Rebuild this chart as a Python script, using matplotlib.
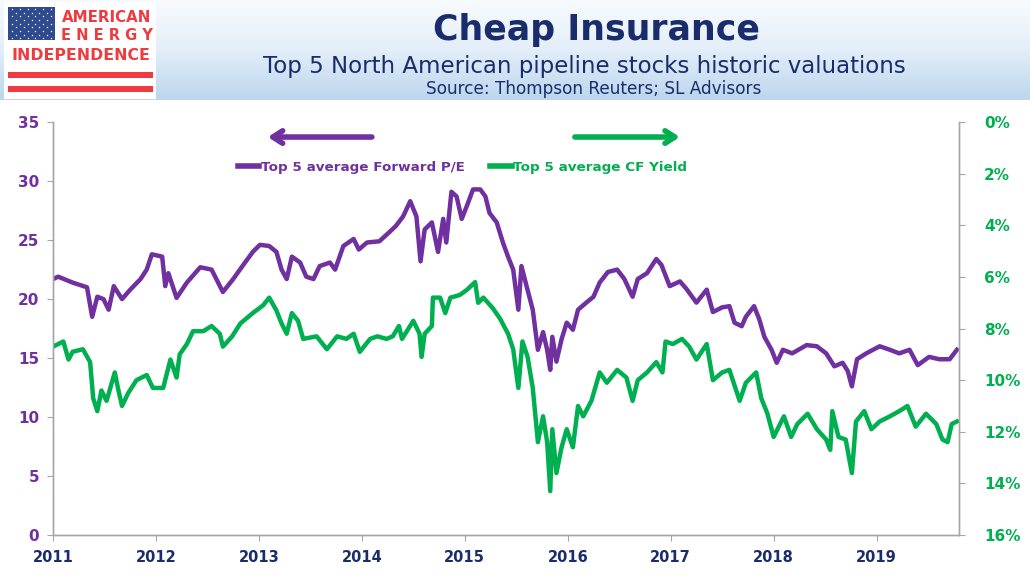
import numpy as np
import matplotlib
matplotlib.use("Agg")
import matplotlib.pyplot as plt
from matplotlib.colors import LinearSegmentedColormap
from matplotlib.patches import Rectangle
from matplotlib.lines import Line2D

# Top 5 average forward P/E (left axis)
pe_t = [2011.00, 2011.05, 2011.19, 2011.33, 2011.38, 2011.43, 2011.49, 2011.54, 2011.59, 2011.67,
        2011.75, 2011.85, 2011.91, 2011.96, 2012.06, 2012.09, 2012.12, 2012.20, 2012.30, 2012.43,
        2012.54, 2012.65, 2012.75, 2012.84, 2012.94, 2013.01, 2013.10, 2013.17, 2013.22, 2013.27,
        2013.32, 2013.40, 2013.46, 2013.53, 2013.59, 2013.69, 2013.74, 2013.82, 2013.92, 2013.97,
        2014.05, 2014.17, 2014.27, 2014.33, 2014.40, 2014.47, 2014.53, 2014.57, 2014.61, 2014.68,
        2014.74, 2014.79, 2014.82, 2014.87, 2014.92, 2014.97, 2015.02, 2015.08, 2015.15, 2015.20,
        2015.24, 2015.31, 2015.37, 2015.42, 2015.47, 2015.52, 2015.55, 2015.60, 2015.66, 2015.71,
        2015.76, 2015.80, 2015.83, 2015.85, 2015.89, 2015.94, 2015.99, 2016.05, 2016.10, 2016.18,
        2016.25, 2016.31, 2016.39, 2016.48, 2016.55, 2016.63, 2016.68, 2016.77, 2016.86, 2016.91,
        2016.99, 2017.09, 2017.15, 2017.25, 2017.35, 2017.41, 2017.50, 2017.57, 2017.62, 2017.69,
        2017.73, 2017.81, 2017.86, 2017.91, 2017.98, 2018.03, 2018.09, 2018.18, 2018.32, 2018.42,
        2018.51, 2018.59, 2018.67, 2018.72, 2018.76, 2018.81, 2018.90, 2019.03, 2019.13, 2019.22,
        2019.32, 2019.40, 2019.51, 2019.61, 2019.71, 2019.78]
pe_v = [21.7, 21.9, 21.4, 21.0, 18.5, 20.2, 20.0, 19.1, 21.1, 20.0,
        20.8, 21.7, 22.5, 23.8, 23.6, 21.1, 22.2, 20.1, 21.4, 22.7,
        22.5, 20.6, 21.7, 22.8, 24.0, 24.6, 24.5, 24.0, 22.5, 21.7,
        23.6, 23.1, 21.9, 21.7, 22.8, 23.1, 22.5, 24.5, 25.1, 24.2,
        24.8, 24.9, 25.7, 26.2, 27.0, 28.3, 27.0, 23.2, 25.9, 26.5,
        24.0, 26.8, 24.8, 29.1, 28.7, 26.8, 27.9, 29.3, 29.3, 28.7,
        27.3, 26.5, 24.8, 23.6, 22.5, 19.1, 22.8, 21.1, 19.1, 15.7,
        17.2, 15.7, 14.0, 16.8, 14.7, 16.6, 18.0, 17.4, 19.1, 19.7,
        20.2, 21.4, 22.3, 22.5, 21.7, 20.2, 21.7, 22.2, 23.4, 22.9,
        21.1, 21.5, 20.9, 19.7, 20.8, 18.9, 19.3, 19.4, 18.0, 17.7,
        18.5, 19.4, 18.3, 16.8, 15.7, 14.6, 15.7, 15.4, 16.1, 16.0,
        15.4, 14.3, 14.6, 13.9, 12.6, 14.9, 15.4, 16.0, 15.7, 15.4,
        15.7, 14.4, 15.1, 14.9, 14.9, 15.7]

# Top 5 average CF yield in % (right axis, inverted)
cf_t = [2011.00, 2011.10, 2011.15, 2011.19, 2011.29, 2011.36, 2011.39, 2011.43, 2011.47, 2011.52,
        2011.60, 2011.63, 2011.67, 2011.73, 2011.81, 2011.91, 2011.97, 2012.07, 2012.14, 2012.20,
        2012.23, 2012.30, 2012.36, 2012.46, 2012.54, 2012.62, 2012.65, 2012.74, 2012.82, 2012.94,
        2013.04, 2013.10, 2013.17, 2013.22, 2013.27, 2013.32, 2013.38, 2013.43, 2013.56, 2013.66,
        2013.76, 2013.85, 2013.92, 2013.98, 2014.08, 2014.15, 2014.24, 2014.30, 2014.36, 2014.39,
        2014.50, 2014.56, 2014.58, 2014.61, 2014.68, 2014.69, 2014.76, 2014.81, 2014.86, 2014.95,
        2015.02, 2015.10, 2015.13, 2015.18, 2015.27, 2015.34, 2015.42, 2015.47, 2015.52, 2015.56,
        2015.61, 2015.66, 2015.71, 2015.76, 2015.80, 2015.83, 2015.85, 2015.89, 2015.94, 2015.99,
        2016.05, 2016.10, 2016.15, 2016.23, 2016.31, 2016.38, 2016.48, 2016.57, 2016.63, 2016.68,
        2016.77, 2016.86, 2016.92, 2016.95, 2017.02, 2017.11, 2017.18, 2017.25, 2017.35, 2017.41,
        2017.50, 2017.57, 2017.67, 2017.73, 2017.83, 2017.88, 2017.94, 2018.00, 2018.05, 2018.10,
        2018.17, 2018.23, 2018.33, 2018.42, 2018.51, 2018.55, 2018.57, 2018.63, 2018.70, 2018.76,
        2018.80, 2018.88, 2018.95, 2019.03, 2019.13, 2019.22, 2019.30, 2019.38, 2019.48, 2019.58,
        2019.64, 2019.69, 2019.73, 2019.78]
cf_v = [8.7, 8.5, 9.2, 8.9, 8.8, 9.3, 10.7, 11.2, 10.4, 10.8,
        9.7, 10.3, 11.0, 10.5, 10.0, 9.8, 10.3, 10.3, 9.2, 9.9,
        9.0, 8.6, 8.1, 8.1, 7.9, 8.2, 8.7, 8.3, 7.8, 7.4,
        7.1, 6.8, 7.3, 7.8, 8.2, 7.4, 7.7, 8.4, 8.3, 8.8,
        8.3, 8.4, 8.2, 8.9, 8.4, 8.3, 8.4, 8.3, 7.9, 8.4,
        7.7, 8.2, 9.1, 8.2, 7.9, 6.8, 6.8, 7.4, 6.8, 6.7,
        6.5, 6.2, 7.0, 6.8, 7.2, 7.6, 8.2, 8.8, 10.3, 8.5,
        9.1, 10.3, 12.4, 11.4, 12.4, 14.3, 11.9, 13.6, 12.6, 11.9,
        12.6, 11.0, 11.4, 10.8, 9.7, 10.1, 9.6, 9.9, 10.8, 10.0,
        9.7, 9.3, 9.7, 8.5, 8.6, 8.4, 8.7, 9.2, 8.6, 10.0,
        9.7, 9.6, 10.8, 10.1, 9.7, 10.7, 11.3, 12.2, 11.8, 11.4,
        12.2, 11.7, 11.3, 11.9, 12.3, 12.7, 11.2, 12.2, 12.3, 13.6,
        11.6, 11.2, 11.9, 11.6, 11.4, 11.2, 11.0, 11.8, 11.3, 11.7,
        12.3, 12.4, 11.7, 11.6]

years = list(range(2011, 2020))
pe_ticks = [0, 5, 10, 15, 20, 25, 30, 35]
cf_ticks = [0, 2, 4, 6, 8, 10, 12, 14, 16]

purple = "#7030A0"
green = "#00B050"
navy = "#1A2C6B"
red = "#EE3B3F"
axis_grey = "#A6A6A6"

fig = plt.figure(figsize=(10.3, 5.79), dpi=100)

# header background and logo, drawn in pixel coordinates
bg = fig.add_axes([0, 0, 1, 1], zorder=0)
bg.set_xlim(0, 1030)
bg.set_ylim(579, 0)
bg.axis("off")
cmap = LinearSegmentedColormap.from_list("hdr", ["#F8FBFE", "#E3EEF9", "#BCD6EE"])
bg.imshow(np.linspace(0, 1, 100).reshape(-1, 1), extent=[0, 1030, 100, 0],
          aspect="auto", cmap=cmap)
bg.add_patch(Rectangle((4, 2), 152, 97, fc="white", ec="none"))
bg.add_patch(Rectangle((8, 7), 47, 33, fc="#2F4B8E", ec="none"))
sx, sy = [], []
for i in range(9):
    n = 6 if i % 2 == 0 else 5
    off = 0 if i % 2 == 0 else 0.5
    for j in range(n):
        sx.append(8 + (j + 0.5 + off) * 47 / 6)
        sy.append(7 + (i + 0.5) * 33 / 9)
bg.scatter(sx, sy, s=3, c="white", marker="*", linewidths=0)
bg.text(107, 17, "AMERICAN", ha="center", va="center", color=red,
        fontsize=10.8, fontweight="bold")
bg.text(107, 36, "E N E R G Y", ha="center", va="center", color=red,
        fontsize=10.5, fontweight="bold")
bg.text(81, 55, "INDEPENDENCE", ha="center", va="center", color=red,
        fontsize=11.3, fontweight="bold")
bg.add_patch(Rectangle((8, 72), 145, 6, fc=red, ec="none"))
bg.add_patch(Rectangle((8, 86), 145, 6, fc=red, ec="none"))

bg.text(596, 30, "Cheap Insurance", ha="center", va="center", color=navy,
        fontsize=25, fontweight="bold")
bg.text(584, 66, "Top 5 North American pipeline stocks historic valuations",
        ha="center", va="center", color=navy, fontsize=16.5)
bg.text(594, 89, "Source: Thompson Reuters; SL Advisors", ha="center",
        va="center", color=navy, fontsize=12.2)

# main chart
ax = fig.add_axes([0.0515, 0.076, 0.8795, 0.713], zorder=2)
ax.patch.set_alpha(0)
ax.plot(pe_t, pe_v, color=purple, lw=3.2, solid_joinstyle="round")
ax.set_xlim(2011, 2019.8)
ax.set_ylim(0, 35)
ax.set_yticks(pe_ticks)
ax.set_yticklabels([str(v) for v in pe_ticks], color=purple,
                   fontweight="bold", fontsize=11)
ax.set_xticks(years)
ax.set_xticklabels([str(y) for y in years], color=navy,
                   fontweight="bold", fontsize=10.5)
ax.tick_params(axis="both", length=4, color=axis_grey)
ax.tick_params(axis="y", pad=6)
ax.tick_params(axis="x", pad=7)

ax2 = ax.twinx()
ax2.plot(cf_t, cf_v, color=green, lw=3.2, solid_joinstyle="round")
ax2.set_ylim(16, 0)
ax2.set_yticks(cf_ticks)
ax2.set_yticklabels(["%d%%" % v for v in cf_ticks], color=green,
                    fontweight="bold", fontsize=11)
ax2.tick_params(axis="y", length=4, color=axis_grey, pad=14)

for a in (ax, ax2):
    a.spines["top"].set_visible(False)
    for s in ("left", "right", "bottom"):
        a.spines[s].set_color(axis_grey)
        a.spines[s].set_linewidth(1)

# direction arrows
ax.annotate("", xy=(0.234, 0.964), xytext=(0.355, 0.964), xycoords="axes fraction",
            arrowprops=dict(arrowstyle="->,head_length=0.7,head_width=0.45",
                            color=purple, lw=4))
ax.annotate("", xy=(0.695, 0.964), xytext=(0.573, 0.964), xycoords="axes fraction",
            arrowprops=dict(arrowstyle="->,head_length=0.7,head_width=0.45",
                            color=green, lw=4))

handles = [Line2D([], [], color=purple, lw=4), Line2D([], [], color=green, lw=4)]
leg = ax.legend(handles, ["Top 5 average Forward P/E", "Top 5 average CF Yield"],
                loc="center", bbox_to_anchor=(0.452, 0.891), ncol=2, frameon=False,
                handlelength=1.6, handletextpad=0.1, columnspacing=1.9,
                prop={"weight": "bold", "size": 9.7})
for txt, c in zip(leg.get_texts(), (purple, green)):
    txt.set_color(c)

fig.savefig("out.png", dpi=100)
